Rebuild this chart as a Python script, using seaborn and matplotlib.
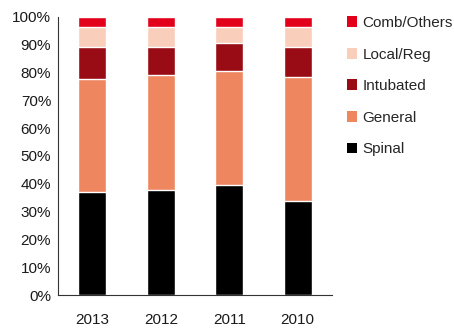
import numpy as np
import pandas as pd
import matplotlib
matplotlib.use("Agg")
import matplotlib.pyplot as plt
from matplotlib.patches import Patch
import seaborn as sns

years = ["2013", "2012", "2011", "2010"]
spinal = [37.0, 37.7, 39.5, 33.8]
general = [40.6, 41.3, 41.0, 44.5]
intubated = [11.5, 10.1, 10.0, 10.8]
local_reg = [7.2, 7.2, 5.8, 7.2]
comb_others = [3.7, 3.7, 3.7, 3.7]

series = ["Spinal", "General", "Intubated", "Local/Reg", "Comb/Others"]
colors = ["#000000", "#EE8660", "#990C15", "#F9CEBB", "#E2001A"]
values = [spinal, general, intubated, local_reg, comb_others]

sns.set_theme(style="white")
plt.rcParams["font.family"] = ["Liberation Sans", "DejaVu Sans"]

fig = plt.figure(figsize=(4.54, 3.29), dpi=100)
ax = fig.add_axes([0.128, 0.103, 0.603, 0.846])

# cumulative tops, drawn from the highest layer down so lower layers sit in front
cum = np.cumsum(np.array(values), axis=0)
for i in range(len(series) - 1, -1, -1):
    df = pd.DataFrame({"year": years, "top": cum[i]})
    sns.barplot(data=df, x="year", y="top", color=colors[i], width=0.41,
                saturation=1, ax=ax, order=years)

ax.set_ylim(0, 100)
ax.set_xlim(-0.5, 3.5)
ax.set_yticks(np.arange(0, 101, 10))
ax.set_yticklabels([f"{v}%" for v in range(0, 101, 10)], fontsize=11, color="#1a1a1a")
ax.set_xticks(range(4))
ax.set_xticklabels(years, fontsize=11, color="#1a1a1a")
ax.set_xticks([-0.5, 0.5, 1.5, 2.5, 3.5], minor=True)
ax.tick_params(axis="x", which="major", length=0, pad=13)
ax.tick_params(axis="x", which="minor", length=8, width=0.8, color="#333333", direction="out")
ax.tick_params(axis="y", length=3, width=0.8, color="#333333", direction="out", pad=2)
ax.set_xlabel("")
ax.set_ylabel("")
for s in ["top", "right"]:
    ax.spines[s].set_visible(False)
for s in ["left", "bottom"]:
    ax.spines[s].set_color("#333333")
    ax.spines[s].set_linewidth(0.8)

handles = [Patch(facecolor=c, edgecolor="none") for c in colors][::-1]
labels = series[::-1]
fig.legend(handles, labels, loc="upper left", bbox_to_anchor=(0.75, 0.97),
           frameon=False, fontsize=11, handlelength=0.7, handleheight=0.7,
           handletextpad=0.35, labelspacing=1.15, borderaxespad=0)

fig.savefig("out.png", dpi=100)
